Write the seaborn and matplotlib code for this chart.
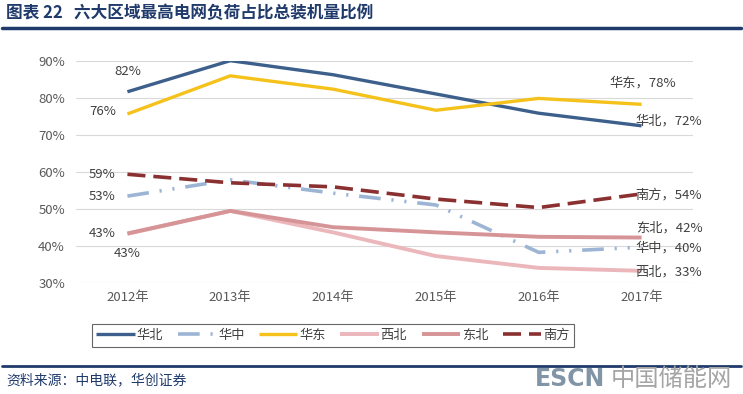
import pandas as pd
import matplotlib.pyplot as plt
import seaborn as sns

# data (share, %)
years = ['2012年', '2013年', '2014年', '2015年', '2016年', '2017年']
huabei = [81.6, 90.0, 86.2, 81.0, 75.8, 72.4]
huazhong = [53.4, 57.8, 54.2, 51.0, 38.2, 39.6]
huadong = [75.6, 85.9, 82.3, 76.6, 79.8, 78.2]
xibei = [43.2, 49.4, 43.6, 37.2, 34.0, 33.2]
dongbei = [43.3, 49.4, 45.0, 43.6, 42.4, 42.2]
nanfang = [59.3, 57.0, 55.9, 52.6, 50.3, 54.0]

regions = ['华北', '华中', '华东', '西北', '东北', '南方']
series = [huabei, huazhong, huadong, xibei, dongbei, nanfang]
colors = ['#3D5F8B', '#9DB5D5', '#F5C21B', '#EBB7BB', '#D69497', '#8A3030']
widths = [2.4, 2.6, 2.4, 2.8, 2.8, 2.6]
dash = [None, (6, 3, 0.6, 3, 0.6, 3), None, None, None, (5, 2.2)]

rows = []
for name, vals in zip(regions, series):
    for i, v in enumerate(vals):
        rows.append({'region': name, 'x': i, 'share': v / 100})
df = pd.DataFrame(rows)

sns.set_style('white')
plt.rcParams['font.family'] = ['Noto Sans CJK SC', 'DejaVu Sans']

fig = plt.figure(figsize=(7.43, 3.94), dpi=100)
ax = fig.add_axes([0.1023, 0.2825, 0.8304, 0.5635])

for name, c, lw, d in zip(regions, colors, widths, dash):
    sub = df[df['region'] == name]
    line = sns.lineplot(data=sub, x='x', y='share', ax=ax, color=c,
                        linewidth=lw, label=name, legend=False).lines[-1]
    if d is not None:
        line.set_dashes(d)
    line.set_solid_capstyle('butt')

ax.set_xlim(-0.5, 5.5)
ax.set_ylim(0.3, 0.9)
ax.set_yticks([0.3, 0.4, 0.5, 0.6, 0.7, 0.8, 0.9])
ax.set_yticklabels([f'{int(round(t*100))}%' for t in ax.get_yticks()])
ax.set_xticks(range(len(years)))
ax.set_xticklabels(years)
ax.tick_params(axis='both', labelsize=9.5, colors='#595959', length=0)
ax.tick_params(axis='y', pad=8)
ax.tick_params(axis='x', pad=6)
ax.yaxis.grid(True, color='#D9D9D9', linewidth=0.8)
ax.set_axisbelow(True)
for s in ax.spines.values():
    s.set_visible(False)
ax.set_xlabel('')
ax.set_ylabel('')

# data labels
lab = dict(fontsize=9.5, color='#404040', textcoords='offset pixels')
ax.annotate('82%', (0, huabei[0] / 100), xytext=(0, 20), ha='center', va='center', **lab)
ax.annotate('76%', (0, huadong[0] / 100), xytext=(-25, 2), ha='center', va='center', **lab)
ax.annotate('59%', (0, nanfang[0] / 100), xytext=(-25, 0), ha='center', va='center', **lab)
ax.annotate('53%', (0, huazhong[0] / 100), xytext=(-25, 0), ha='center', va='center', **lab)
ax.annotate('43%', (0, dongbei[0] / 100), xytext=(-25, 0), ha='center', va='center', **lab)
ax.annotate('43%', (0, xibei[0] / 100), xytext=(0, -20), ha='center', va='center', **lab)
ax.annotate('华东，78%', (5, huadong[5] / 100), xytext=(1, 21), ha='center', va='center', **lab)
ax.annotate('华北，72%', (5, huabei[5] / 100), xytext=(-6, 5), ha='left', va='center', **lab)
ax.annotate('南方，54%', (5, nanfang[5] / 100), xytext=(-6, -1), ha='left', va='center', **lab)
ax.annotate('东北，42%', (5, dongbei[5] / 100), xytext=(-6, 10), ha='left', va='center', **lab)
ax.annotate('华中，40%', (5, huazhong[5] / 100), xytext=(-6, -1), ha='left', va='center', **lab)
ax.annotate('西北，33%', (5, xibei[5] / 100), xytext=(-6, -1), ha='left', va='center', **lab)

leg = ax.legend(loc='center', bbox_to_anchor=(333 / 743, 1 - 335.5 / 394),
                bbox_transform=fig.transFigure, ncol=6, frameon=True,
                fancybox=False, fontsize=9.5, handlelength=2.9, handletextpad=0.15,
                columnspacing=1.1, borderpad=0.35)
leg.get_frame().set_edgecolor('#404040')
leg.get_frame().set_linewidth(0.8)
for t in leg.get_texts():
    t.set_color('#404040')

# header / footer
fig.text(0.008, 1 - 13 / 394, '图表 22   六大区域最高电网负荷占比总装机量比例',
         fontsize=12, fontweight='bold', color='#1F3A6B', va='center')
fig.add_artist(plt.Line2D([0.003, 0.997], [1 - 28 / 394] * 2, color='#1F3A6B',
                          linewidth=2.5, transform=fig.transFigure))
fig.add_artist(plt.Line2D([0.003, 0.997], [1 - 366 / 394] * 2, color='#1F3A6B',
                          linewidth=2.0, transform=fig.transFigure))
fig.text(0.008, 1 - 380 / 394, '资料来源：中电联，华创证券', fontsize=10,
         style='italic', color='#1F3A6B', va='center')
fig.text(0.72, 1 - 379 / 394, 'ESCN', fontsize=17, fontweight='bold',
         color='#8295A6', va='center', family='DejaVu Sans')
fig.text(0.822, 1 - 379 / 394, '中国储能网', fontsize=17.5, color='#A5A5A5',
         va='center')

fig.savefig('out.png', dpi=100)
